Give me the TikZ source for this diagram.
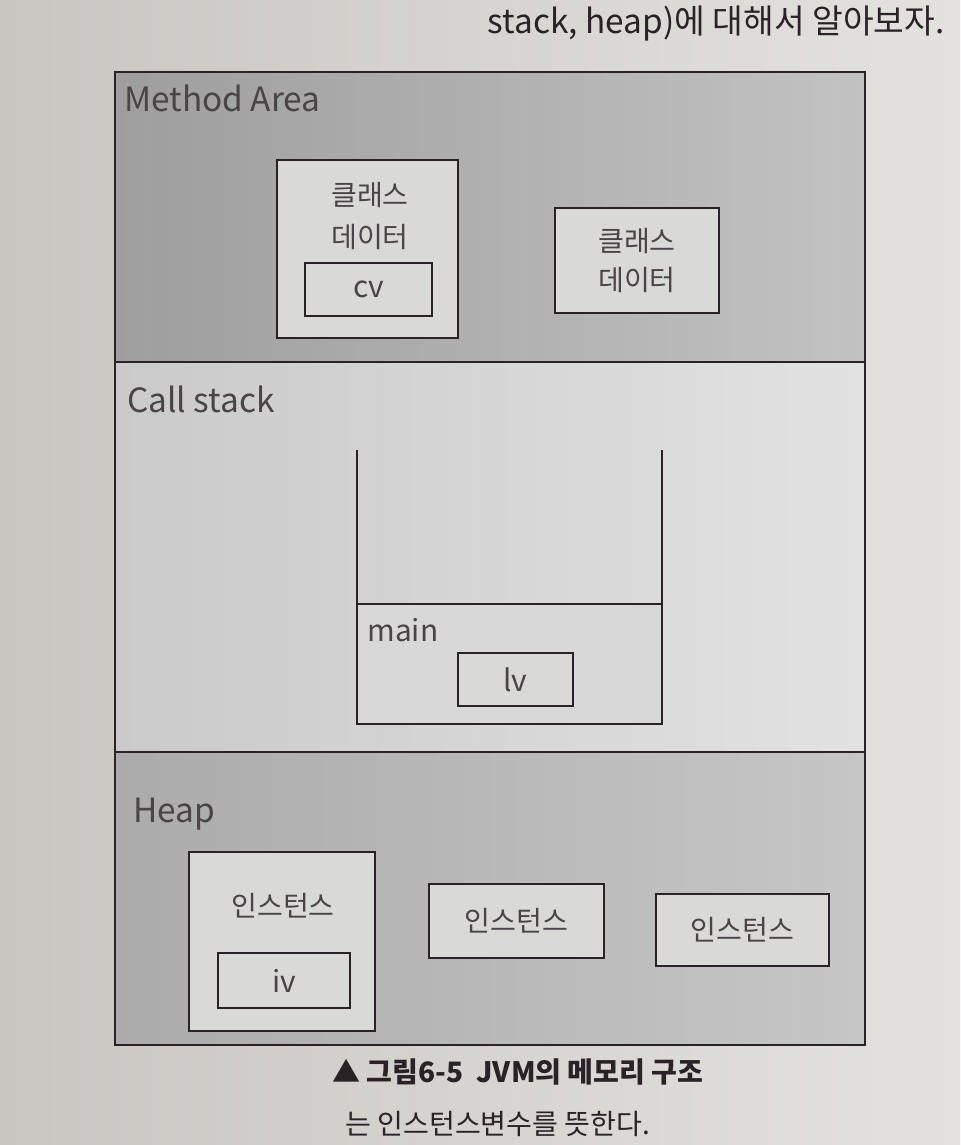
\documentclass[tikz,border=0pt]{standalone}
\usepackage{fontspec}
\setmainfont{Noto Sans CJK KR}
\usetikzlibrary{positioning}
\definecolor{ink}{HTML}{2A2226}
\definecolor{pageL}{HTML}{C9C6C2}
\definecolor{pageR}{HTML}{E4E2DF}
\definecolor{methodL}{HTML}{9E9E9E}
\definecolor{methodR}{HTML}{C2C2C2}
\definecolor{stackL}{HTML}{CACACA}
\definecolor{stackR}{HTML}{E2E2E2}
\definecolor{heapL}{HTML}{ABABAB}
\definecolor{heapR}{HTML}{C6C6C6}
\definecolor{paper}{HTML}{D9D9D8}

\begin{document}
\begin{tikzpicture}[
  x=0.02cm, y=-0.02cm,
  region/.style={draw=ink, line width=1.6pt},
  databox/.style={draw=ink, line width=1.4pt, fill=paper, inner sep=0pt},
  hangul/.style={align=center, text=ink!85, font=\fontsize{16}{22}\selectfont},
  varbox/.style={databox, font=\fontsize{17}{20}\selectfont, text=ink!85},
  areaname/.style={anchor=base west, inner sep=0pt, text=ink!85, font=\fontsize{19}{23}\selectfont}
]

  % page
  \fill[left color=pageL, right color=pageR] (0,0) rectangle (960,1145);
  \useasboundingbox (0,0) rectangle (960,1145);

  \node[anchor=base east, inner sep=0pt, text=ink, font=\fontsize{19}{22}\selectfont] (intro) at (945,34) {stack, heap)에 대해서 알아보자.};

  % memory regions
  \fill[left color=methodL, right color=methodR] (115,72) rectangle (865,362);
  \fill[left color=stackL, right color=stackR] (115,362) rectangle (865,752);
  \fill[left color=heapL, right color=heapR] (115,752) rectangle (865,1045);
  \draw[region] (115,72) rectangle (865,1045);
  \draw[region] (115,362) -- (865,362);
  \draw[region] (115,752) -- (865,752);

  \node[areaname] (method) at (124,112) {Method Area};
  \node[areaname] (calls) at (127,412) {Call stack};
  \node[areaname] (heap) at (133,822) {Heap};

  % method area
  \node[databox, minimum width=3.62cm, minimum height=3.56cm] (cls1) at (367.5,249) {};
  \node[hangul, font=\fontsize{16}{24}\selectfont] (cls1txt) at (370,216) {클래스\\데이터};
  \node[varbox, minimum width=2.54cm, minimum height=1.06cm] (cv) at (368.5,289.5) {cv};
  \node[databox, hangul, minimum width=3.28cm, minimum height=2.1cm] (cls2) at (637,260.5) {클래스\\데이터};

  % call stack
  \coordinate (stl) at (357,450);
  \coordinate (str) at (662,450);
  \coordinate (sbl) at (357,724);
  \coordinate (sbr) at (662,724);
  \fill[stackR!60!stackL] (357,604) rectangle (sbr);
  \draw[region, line width=1.4pt] (stl) -- (sbl) -- (sbr) -- (str);
  \draw[region, line width=1.4pt] (357,604) -- (662,604);
  \node[anchor=base west, inner sep=0pt, text=ink!85, font=\fontsize{17}{20}\selectfont] (main) at (367,641) {main};
  \node[varbox, minimum width=2.3cm, minimum height=1.06cm] (lv) at (515.5,679.5) {lv};

  % heap
  \node[databox, minimum width=3.72cm, minimum height=3.58cm] (inst1) at (282,941.5) {};
  \node[hangul] (inst1txt) at (283,906) {인스턴스};
  \node[varbox, minimum width=2.64cm, minimum height=1.1cm] (iv) at (284,980.5) {iv};
  \node[databox, hangul, minimum width=3.5cm, minimum height=1.48cm] (inst2) at (516.5,921) {인스턴스};
  \node[databox, hangul, minimum width=3.46cm, minimum height=1.44cm] (inst3) at (742.5,930) {인스턴스};

  % caption
  \node[text=ink, font=\fontsize{16}{20}\selectfont\bfseries] (caption) at (518,1072) {▲ 그림6-5~~JVM의 메모리 구조};
  \node[anchor=base west, inner sep=0pt, text=ink, font=\fontsize{16}{20}\selectfont] (note) at (345,1134) {는 인스턴스변수를 뜻한다.};

\end{tikzpicture}
\end{document}
